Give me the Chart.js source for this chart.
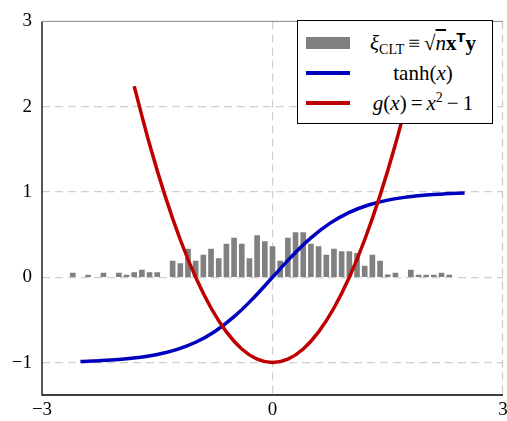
<!DOCTYPE html>
<html>
<head>
<meta charset="utf-8">
<script src="https://cdn.jsdelivr.net/npm/chart.js@4"></script>
<style>
  body { margin: 0; background: #fff; }
  #wrap { position: relative; width: 507px; height: 421px; }
  #legend {
    position: absolute; left: 297px; top: 20px; width: 194px; height: 102px;
    border: 1px solid #000; background: #fff;
    font-family: "Liberation Serif", serif; font-size: 21px; color: #000;
  }
  .row { position: absolute; left: 0; width: 100%; height: 26px; }
  .sw { position: absolute; left: 8px; width: 44px; }
  .txt { position: absolute; left: 58px; right: 2px; text-align: center; line-height: 26px; white-space: nowrap; }
  sub { font-size: 14px; vertical-align: -4px; line-height: 0; }
  sup { font-size: 14px; vertical-align: 8px; line-height: 0; }
  .T { font-family: "DejaVu Sans", sans-serif; font-weight: bold; font-size: 13px; }
  .op { padding: 0 4px; }
</style>
</head>
<body>
<div id="wrap">
  <canvas id="chart" width="507" height="421"></canvas>
  <div id="legend">
    <div class="row" style="top:9px"><div class="sw" style="top:7px;height:12px;background:#808080"></div>
      <div class="txt"><i>ξ</i><sub>CLT</sub><span class="op">≡</span>√<span style="text-decoration:overline"><i>n</i></span><b>x</b><sup class="T">T</sup><b>y</b></div></div>
    <div class="row" style="top:39px"><div class="sw" style="top:11px;height:4px;background:#0000bf"></div>
      <div class="txt">tanh(<i>x</i>)</div></div>
    <div class="row" style="top:69px"><div class="sw" style="top:11px;height:4px;background:#bf0000"></div>
      <div class="txt"><i>g</i>(<i>x</i>)<span class="op">=</span><i>x</i><sup>2</sup><span class="op">−</span>1</div></div>
  </div>
</div>
<script>
/* ---------------- Data ---------------- */

const binCenters = [-2.6, -2.4, -2.2, -2.0, -1.9, -1.8, -1.7, -1.6, -1.5,
    -1.3, -1.2, -1.1, -1.0, -0.9, -0.8, -0.7, -0.6, -0.5, -0.4, -0.3, -0.2, -0.1,
    0.0, 0.1, 0.2, 0.3, 0.4, 0.5, 0.6, 0.7, 0.8, 0.9, 1.0, 1.1, 1.2, 1.3, 1.4,
    1.5, 1.6, 1.8, 1.9, 2.0, 2.1, 2.2, 2.3];
const binHeights = [0.05, 0.025, 0.05, 0.05, 0.025, 0.055, 0.085, 0.055, 0.055,
    0.19, 0.16, 0.33, 0.19, 0.26, 0.33, 0.22, 0.39, 0.46, 0.39, 0.22, 0.49, 0.42,
    0.36, 0.19, 0.46, 0.525, 0.525, 0.39, 0.36, 0.26, 0.33, 0.30, 0.30, 0.28, 0.13, 0.26, 0.19,
    0.03, 0.05, 0.085, 0.025, 0.025, 0.025, 0.05, 0.025];

const tanhX = [-2.5, -2.25, -2, -1.75, -1.5, -1.25, -1, -0.75, -0.5, -0.25, 0,
    0.25, 0.5, 0.75, 1, 1.25, 1.5, 1.75, 2, 2.25, 2.5];
const tanhY = [-0.987, -0.978, -0.964, -0.941, -0.905, -0.848, -0.762, -0.635, -0.462, -0.245, 0,
    0.245, 0.462, 0.635, 0.762, 0.848, 0.905, 0.941, 0.964, 0.978, 0.987];

const gX = [-1.8, -1.6, -1.4, -1.2, -1.0, -0.8, -0.6, -0.4, -0.2, 0,
    0.2, 0.4, 0.6, 0.8, 1.0, 1.2, 1.4, 1.6, 1.8];
const gY = [2.24, 1.56, 0.96, 0.44, 0, -0.36, -0.64, -0.84, -0.96, -1,
    -0.96, -0.84, -0.64, -0.36, 0, 0.44, 0.96, 1.56, 2.24];

const xTicks = [-3, 0, 3];
const yTicks = [-1, 0, 1, 2, 3];

/* ---------------- Helpers ---------------- */

const pts = (xs, ys) => xs.map((x, i) => ({ x, y: ys[i] }));
const fmt = v => (v < 0 ? "\u2212" + Math.abs(v) : String(v));
const tickFont = { family: "Liberation Serif", size: 19 };

// left / bottom axis lines, top frame line, dashed right edge
const framePlugin = {
    id: "frame",
    beforeDatasetsDraw(chart) {
        const { ctx, chartArea: a } = chart;
        ctx.save();
        ctx.strokeStyle = "#c8c8c8";
        ctx.lineWidth = 1.2;
        ctx.setLineDash([8, 5]);
        ctx.beginPath();
        ctx.moveTo(a.right - 0.5, a.top);
        ctx.lineTo(a.right - 0.5, a.bottom);
        ctx.stroke();
        ctx.setLineDash([]);
        ctx.lineWidth = 1.3;
        ctx.strokeStyle = "#000";
        ctx.beginPath();
        ctx.moveTo(a.left, a.top);
        ctx.lineTo(a.left, a.bottom);
        ctx.lineTo(a.right, a.bottom);
        ctx.stroke();
        ctx.strokeStyle = "#888";
        ctx.lineWidth = 1;
        ctx.beginPath();
        ctx.moveTo(a.left, a.top);
        ctx.lineTo(a.right, a.top);
        ctx.stroke();
        ctx.restore();
    }
};

new Chart(document.getElementById("chart"), {
    type: "bar",
    data: {
        datasets: [
            {
                type: "line",
                data: pts(gX, gY),
                borderColor: "#bf0000",
                borderWidth: 3.5,
                pointRadius: 0,
                tension: 0.4,
                order: 1
            },
            {
                type: "line",
                data: pts(tanhX, tanhY),
                borderColor: "#0000bf",
                borderWidth: 3.5,
                pointRadius: 0,
                tension: 0.4,
                order: 2
            },
            {
                type: "bar",
                data: pts(binCenters, binHeights),
                backgroundColor: "#808080",
                barThickness: 5,
                order: 3
            }
        ]
    },
    options: {
        responsive: false,
        animation: false,
        layout: { padding: { top: 14, right: 4, left: 0, bottom: 0 } },
        plugins: { legend: { display: false }, tooltip: { enabled: false } },
        scales: {
            x: {
                type: "linear",
                min: -3, max: 3,
                offset: false,
                afterBuildTicks: s => { s.ticks = xTicks.map(v => ({ value: v })); },
                afterFit: s => { s.height = 26; s.paddingRight = 0; s.paddingLeft = 0; },
                ticks: { font: tickFont, color: "#000", padding: 4, maxRotation: 0, callback: fmt },
                grid: {
                    offset: false,
                    color: c => (c.tick && c.tick.value > -3 && c.tick.value < 3 ? "#cfcfcf" : "rgba(0,0,0,0)"),
                    lineWidth: 1.2,
                    drawTicks: false
                },
                border: { display: false, dash: [8, 5] }
            },
            y: {
                min: -1.38, max: 3,
                afterBuildTicks: s => { s.ticks = yTicks.map(v => ({ value: v })); },
                afterFit: s => { s.width = 42; },
                ticks: { font: tickFont, color: "#000", padding: 10, callback: fmt },
                grid: {
                    color: c => (c.tick && c.tick.value < 3 ? "#cfcfcf" : "rgba(0,0,0,0)"),
                    lineWidth: 1.2,
                    drawTicks: false
                },
                border: { display: false, dash: [8, 5] }
            }
        }
    },
    plugins: [framePlugin]
});
</script>
</body>
</html>
